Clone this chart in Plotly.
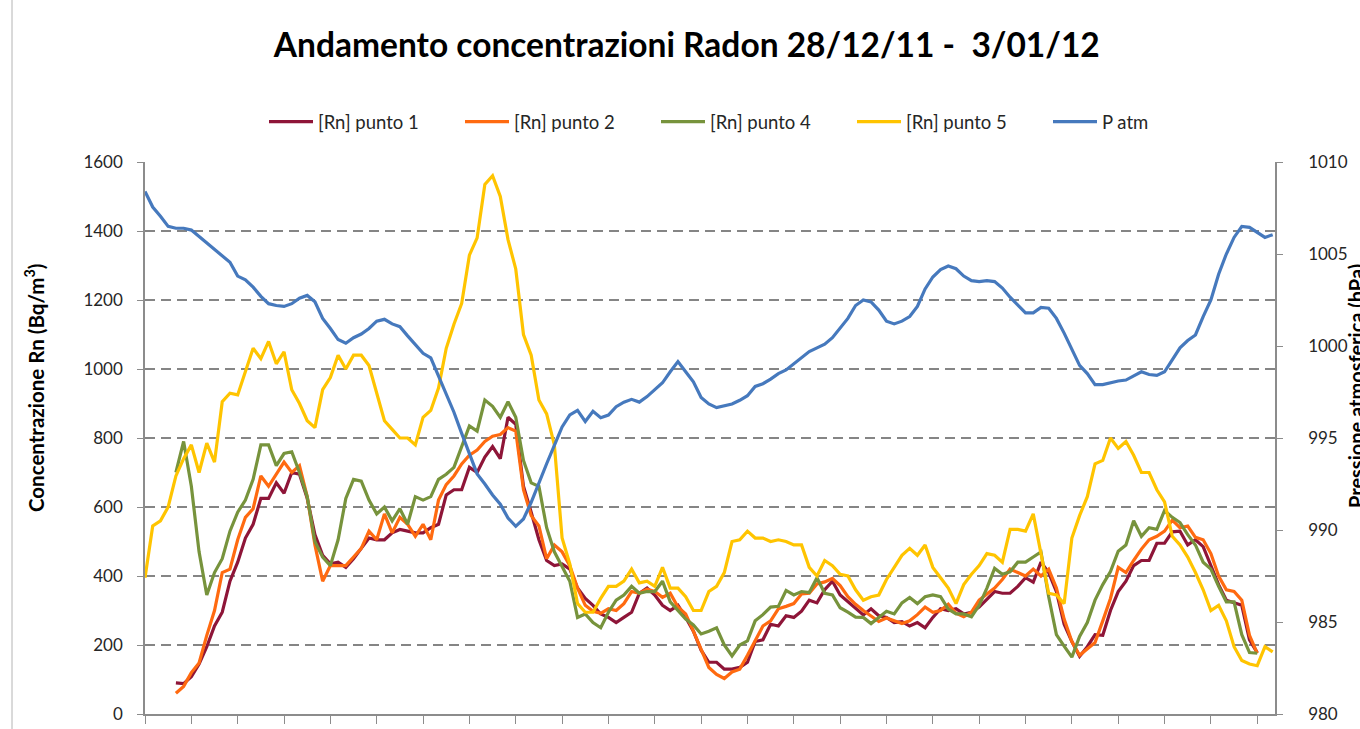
import plotly.graph_objects as go

# hourly index (28/12/11 00:00 -> ~3/01/12)
hours = list(range(147))
tick_hours = list(range(0, 145, 6))

punto1 = [None] * 4 + [
    90, 88, 108, 145, 195, 255, 295, 385, 440, 510, 550, 625, 625, 670, 640, 700, 695, 625, 520, 460,
    435, 440, 425, 450, 480, 510, 505, 505, 525, 535, 530, 525, 525, 540, 550,
    635, 650, 650, 715, 700, 745, 775, 740, 860, 840, 660, 585, 505, 445, 430, 435, 420, 365, 335, 315,
    290, 280, 265, 280, 295, 350, 365, 345, 315, 300, 315, 280, 240, 185, 150, 150, 130,
    130, 135, 150, 210, 215, 260, 255, 285, 280, 298, 330, 322, 360, 385, 345, 325, 305, 287, 305, 285,
    280, 265, 268, 255, 265, 250, 280, 305, 300, 305, 290, 295, 310, 333, 355, 350, 350, 370,
    395, 382, 440, 410, 355, 260, 210, 167, 195, 230, 228, 300, 355, 385, 430, 445, 445, 495, 495, 528,
    530, 490, 505, 485, 430, 375, 330, 322, 315, 215, 178] + [None] * 2

punto2 = [None] * 4 + [
    60, 80, 120, 148, 228, 300, 410, 420, 505, 570, 595, 690, 660, 695, 730, 700, 720, 630, 490, 385,
    430, 430, 430, 455, 480, 530, 505, 580, 525, 570, 550, 515, 550, 505, 620,
    665, 690, 725, 750, 765, 790, 805, 810, 830, 820, 650, 575, 545, 450, 490, 470, 430, 365, 315, 298,
    292, 305, 300, 320, 355, 350, 362, 355, 338, 350, 310, 290, 240, 185, 135, 115, 103,
    122, 130, 170, 215, 255, 270, 305, 312, 320, 348, 350, 377, 383, 393, 372, 340, 318, 300, 285, 268,
    278, 270, 262, 270, 288, 310, 295, 300, 318, 292, 282, 295, 330, 348, 365, 390, 420, 410,
    400, 420, 400, 420, 365, 275, 210, 170, 190, 207, 270, 335, 425, 410, 445, 478, 505, 515, 530, 562,
    540, 545, 512, 505, 465, 400, 360, 355, 330, 228, 176] + [None] * 2

punto4 = [None] * 4 + [
    700, 790, 660, 470, 345, 410, 450, 530, 585, 620, 680, 780, 780, 720, 755, 760, 700, 630, 500, 455,
    430, 505, 625, 680, 675, 620, 580, 600, 560, 595, 550, 630, 620, 630, 680,
    695, 715, 775, 835, 820, 910, 892, 860, 905, 860, 735, 670, 660, 540, 470, 425, 385, 280, 290, 265,
    250, 295, 330, 345, 370, 350, 355, 355, 385, 325, 300, 275, 258, 232, 240, 250, 200,
    168, 200, 212, 270, 288, 310, 312, 358, 345, 355, 352, 395, 350, 345, 308, 295, 281, 280, 262, 280,
    298, 290, 322, 338, 320, 340, 345, 340, 304, 290, 290, 282, 315, 365, 422, 405, 412, 440,
    440, 455, 470, 340, 230, 197, 165, 225, 265, 330, 375, 413, 472, 490, 560, 515, 540, 535, 590, 570,
    555, 520, 490, 440, 420, 370, 325, 325, 230, 178, 176] + [None] * 2

punto5 = [
    395, 545, 560, 600, 690, 740, 780, 700, 785, 730, 905, 930, 925, 990, 1060, 1030, 1080, 1015, 1050, 940,
    900, 850, 830, 940, 975, 1040, 1000, 1040, 1040, 1010, 930, 850, 825, 800, 800, 780, 860, 880, 945,
    1060, 1130, 1190, 1330, 1380, 1535, 1560, 1500, 1375, 1290, 1100, 1040, 910, 870, 780, 510, 435, 320, 295, 295,
    335, 370, 370, 385, 420, 380, 385, 370, 425, 365, 365, 340, 300, 300, 355, 370, 410,
    500, 505, 530, 510, 510, 500, 505, 500, 490, 490, 425, 400, 445, 430, 405, 400, 360, 330, 340, 345,
    390, 425, 460, 480, 460, 490, 425, 395, 365, 320, 375, 405, 430, 465, 460, 440, 535, 535,
    530, 580, 460, 350, 345, 320, 510, 575, 630, 725, 735, 800, 770, 790, 750, 700, 700, 650, 615, 515,
    490, 455, 410, 360, 300, 315, 270, 195, 155, 145, 140, 195, 180]

p_atm = [
    1008.4, 1007.55, 1007.05, 1006.5, 1006.4, 1006.4, 1006.3, 1005.95, 1005.6, 1005.2,
    1004.85, 1004.55, 1003.8, 1003.6, 1003.2, 1002.7, 1002.3, 1002.2, 1002.15, 1002.3,
    1002.6, 1002.75, 1002.4, 1001.5, 1000.95, 1000.35, 1000.15, 1000.45, 1000.65, 1000.95,
    1001.35, 1001.45, 1001.2, 1001.05, 1000.55, 1000.05, 999.6, 999.35, 998.35, 997.4,
    996.4, 995.25, 994.1, 993.05, 992.5, 991.9, 991.4, 990.65, 990.2, 990.6,
    991.5, 992.6, 993.6, 994.6, 995.6, 996.25, 996.5, 995.9, 996.45, 996.1,
    996.25, 996.7, 996.95, 997.1, 996.95, 997.25, 997.6, 998.0, 998.6, 999.15,
    998.6, 998.05, 997.2, 996.85, 996.65, 996.75, 996.85, 997.05, 997.3, 997.8,
    997.95, 998.2, 998.5, 998.7, 999.05, 999.4, 999.7, 999.9, 1000.1, 1000.45,
    1001.0, 1001.5, 1002.2, 1002.5, 1002.4, 1001.95, 1001.35, 1001.2, 1001.35, 1001.6,
    1002.15, 1003.1, 1003.75, 1004.15, 1004.35, 1004.2, 1003.8, 1003.55, 1003.5, 1003.55,
    1003.5, 1003.15, 1002.65, 1002.2, 1001.8, 1001.8, 1002.1, 1002.05, 1001.5, 1000.7,
    999.8, 998.95, 998.5, 997.9, 997.9, 998.0, 998.1, 998.15, 998.4, 998.6,
    998.45, 998.4, 998.6, 999.25, 999.9, 1000.3, 1000.6, 1001.6, 1002.5, 1003.9,
    1005.0, 1005.9, 1006.5, 1006.45, 1006.15, 1005.9, 1006.05]

series_names = ["[Rn] punto 1", "[Rn] punto 2", "[Rn] punto 4", "[Rn] punto 5"]
series_colors = ["#8E1538", "#FF6A10", "#77933C", "#FFC400"]
patm_name = "P atm"
patm_color = "#4679BD"

title_text = "Andamento concentrazioni Radon 28/12/11 -\u00a0 3/01/12"
y1_title = "Concentrazione Rn (Bq/m<sup>3</sup>)"
y2_title = "Pressione atmosferica (hPa)"

FONT = "Lato"
AXIS_GRAY = "#8C8C8C"

fig = go.Figure()
for name, vals, col in zip(series_names, [punto1, punto2, punto4, punto5], series_colors):
    fig.add_trace(go.Scatter(x=hours, y=vals, name=name, mode="lines",
                             line=dict(color=col, width=3.2), connectgaps=False))
fig.add_trace(go.Scatter(x=hours, y=p_atm, name=patm_name, mode="lines", yaxis="y2",
                         line=dict(color=patm_color, width=3.2)))

W, H = 1360, 729
L, R, T = 145, 85, 162
PLOT_BOTTOM = 714
B = H - PLOT_BOTTOM
pw = W - L - R
ph = PLOT_BOTTOM - T

def px_to_paper_x(px):
    return (px - L) / pw

def px_to_paper_y(py):
    return (PLOT_BOTTOM - py) / ph

fig.update_layout(
    width=W, height=H, autosize=False,
    margin=dict(l=L, r=R, t=T, b=B, pad=0, autoexpand=False),
    paper_bgcolor="white", plot_bgcolor="white",
    font=dict(family=FONT, color="#262626"),
    title=dict(text="<b>" + title_text + "</b>", x=0.505, xanchor="center",
               y=1 - 45 / H, yanchor="middle", font=dict(size=33.5, color="#000000", family=FONT)),
    showlegend=True,
    legend=dict(orientation="h", xref="container", yref="container",
                x=264 / W, xanchor="left", y=1 - 122 / H, yanchor="middle",
                font=dict(size=18.5, color="#262626"), itemwidth=44,
                entrywidth=137, entrywidthmode="pixels", traceorder="normal",
                bgcolor="rgba(0,0,0,0)"),
    xaxis=dict(range=[0, 146.3], tickmode="array", tickvals=tick_hours, showticklabels=False,
               ticks="outside", ticklen=8, tickcolor=AXIS_GRAY, tickwidth=1,
               showline=True, linecolor=AXIS_GRAY, linewidth=1.5, showgrid=False, zeroline=False,
               fixedrange=True),
    yaxis=dict(range=[0, 1600], dtick=200, tick0=0, ticks="outside", ticklen=6,
               tickcolor=AXIS_GRAY, showline=True, linecolor=AXIS_GRAY, linewidth=1.5,
               showgrid=True, gridcolor="#858585", gridwidth=2, griddash="10px,6px",
               zeroline=False, tickfont=dict(size=17, color="#262626"), ticklabelstandoff=11),
    yaxis2=dict(range=[980, 1010], dtick=5, tick0=980, overlaying="y", side="right",
                ticks="outside", ticklen=6, tickcolor=AXIS_GRAY, showline=True,
                linecolor=AXIS_GRAY, linewidth=1.5, showgrid=False, zeroline=False,
                tickfont=dict(size=17, color="#262626"), ticklabelstandoff=22),
    annotations=[
        dict(text="<b>" + y1_title + "</b>", xref="paper", yref="paper",
             x=px_to_paper_x(34), y=px_to_paper_y(388), xanchor="center", yanchor="middle",
             textangle=-90, showarrow=False, font=dict(size=20.5, color="#000000")),
        dict(text="<b>" + y2_title + "</b>", xref="paper", yref="paper",
             x=px_to_paper_x(1356), y=px_to_paper_y(386), xanchor="center", yanchor="middle",
             textangle=-90, showarrow=False, font=dict(size=20, color="#000000")),
    ],
    shapes=[
        dict(type="line", xref="paper", yref="paper",
             x0=px_to_paper_x(12), x1=px_to_paper_x(12),
             y0=px_to_paper_y(H), y1=px_to_paper_y(0),
             line=dict(color="#B4B4B4", width=1)),
    ],
)

fig.write_html(
    "out.html",
    config={"displayModeBar": False},
    post_script="document.body.style.margin='0px';document.body.style.padding='0px';"
                "document.body.style.overflow='hidden';",
)
